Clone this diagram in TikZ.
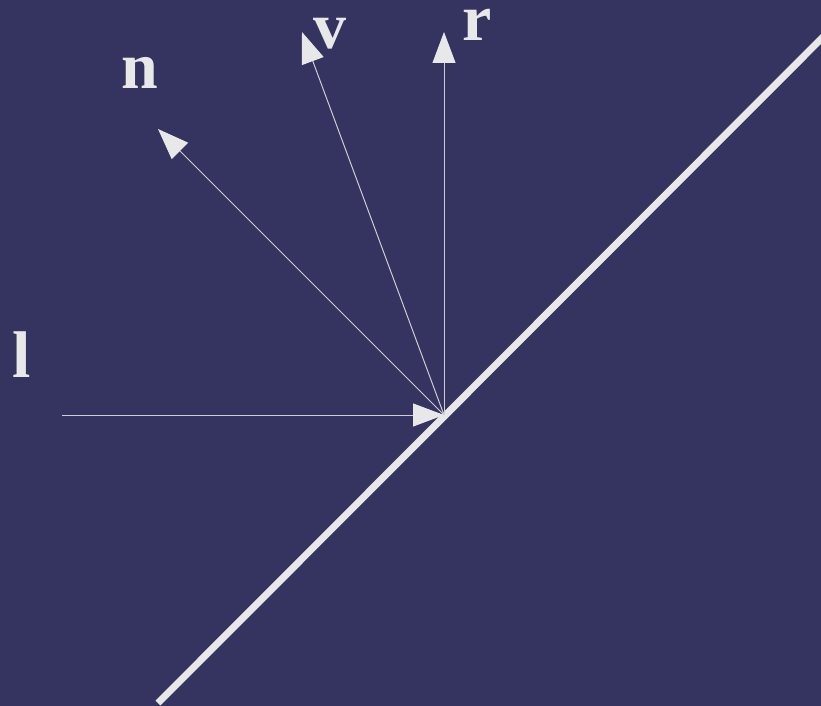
\documentclass[tikz,border=0pt]{standalone}
\usepackage{fontspec}
\setmainfont{Liberation Serif}
\usetikzlibrary{arrows.meta}
\definecolor{bg}{HTML}{35335F}
\definecolor{fg}{HTML}{E8E8E8}
\tikzset{
  vec/.style={draw=fg!85!bg, line width=1pt, -{Triangle[length=31pt,width=23pt,color=fg]}},
  lbl/.style={text=fg, font=\fontsize{66}{70}\selectfont\bfseries, inner sep=0pt},
  surface/.style={draw=fg, line width=7pt}
}
\begin{document}
\begin{tikzpicture}[x=1pt,y=-1pt]
\fill[bg] (0,0) rectangle (821,706);
\useasboundingbox (0,0) rectangle (821,706);
\coordinate (O) at (444,415);
\coordinate (S1) at (158,703);
\coordinate (S2) at (830,30);
\coordinate (L0) at (62,415);
\coordinate (N1) at (158,129);
\coordinate (V1) at (302,32);
\coordinate (R1) at (444,32);
\draw[surface] (S1) -- (S2);
\draw[vec] (L0) -- (O);
\draw[vec] (O) -- (N1);
\draw[vec] (O) -- (V1);
\draw[vec] (O) -- (R1);
\node[lbl, anchor=base] (ln) at (22,377) {l};
\node[lbl, anchor=base] (nn) at (140,89) {n};
\node[lbl, anchor=base] (vn) at (330,49) {v};
\node[lbl, anchor=base] (rn) at (477,41) {r};
\end{tikzpicture}
\end{document}
